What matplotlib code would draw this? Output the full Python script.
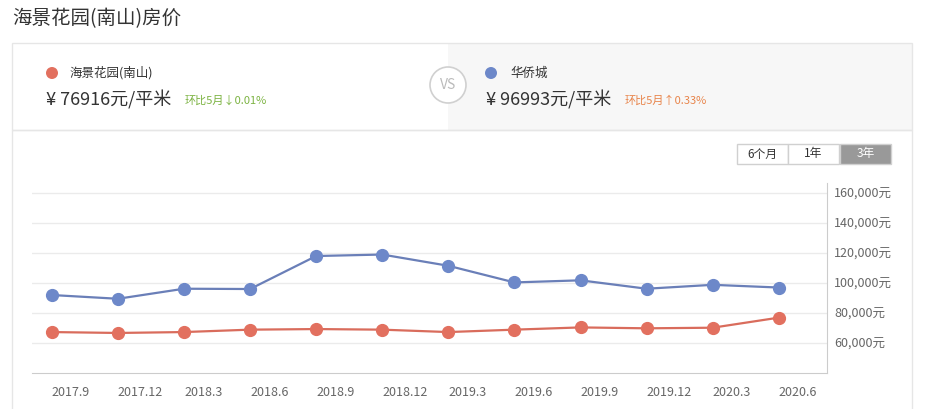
import matplotlib
matplotlib.use('Agg')
import matplotlib.pyplot as plt
from matplotlib.patches import Rectangle, Circle
from matplotlib.ticker import FuncFormatter
plt.rcParams['font.family'] = ['Noto Sans CJK SC', 'DejaVu Sans']

# data
months = ['2017.9', '2017.12', '2018.3', '2018.6', '2018.9', '2018.12',
          '2019.3', '2019.6', '2019.9', '2019.12', '2020.3', '2020.6']
haijing = [67300, 66700, 67300, 68900, 69300, 68900,
           67300, 68900, 70400, 69800, 70200, 76916]
huaqiao = [92000, 89500, 96200, 96000, 118000, 119000,
           111500, 100400, 101800, 96200, 98800, 96993]
yticks = [60000, 80000, 100000, 120000, 140000, 160000]
ranges = ['6个月', '1年', '3年']

W, H = 933, 409
RED, RED_LINE = '#e2705f', '#d96c5c'
BLUE, BLUE_LINE = '#6d88c9', '#6a7fb8'

fig = plt.figure(figsize=(W / 100, H / 100), dpi=100)

# background canvas in pixel coordinates
bg = fig.add_axes([0, 0, 1, 1])
bg.set_xlim(0, W)
bg.set_ylim(H, 0)
bg.axis('off')

bg.text(12, 19, '海景花园(南山)房价', fontsize=14, color='#333333', va='center')

# top card
bg.add_patch(Rectangle((448, 43), 464, 87, facecolor='#f7f7f7', edgecolor='none'))
bg.add_patch(Rectangle((12, 43), 900, 87, facecolor='none', edgecolor='#e6e6e6', lw=1))
bg.add_patch(Rectangle((12, 130), 900, 290, facecolor='none', edgecolor='#e6e6e6', lw=1))
bg.add_patch(Circle((448, 85), 18, facecolor='white', edgecolor='#d0d0d0', lw=1.2))
bg.text(448, 85, 'VS', fontsize=10, color='#bbbbbb', ha='center', va='center')

bg.add_patch(Circle((52, 73), 6, facecolor=RED, edgecolor='none'))
bg.text(70, 73, '海景花园(南山)', fontsize=9, color='#333333', va='center')
bg.text(46, 100, '¥ 76916元/平米', fontsize=13, color='#333333', va='center')
bg.text(185, 101, '环比5月↓0.01%', fontsize=8, color='#7cb342', va='center')

bg.add_patch(Circle((491, 73), 6, facecolor=BLUE, edgecolor='none'))
bg.text(510, 73, '华侨城', fontsize=9, color='#333333', va='center')
bg.text(486, 100, '¥ 96993元/平米', fontsize=13, color='#333333', va='center')
bg.text(625, 101, '环比5月↑0.33%', fontsize=8, color='#e8844a', va='center')

# range buttons
bx = [737, 788, 840]
for i, lab in enumerate(ranges):
    active = i == len(ranges) - 1
    bg.add_patch(Rectangle((bx[i], 144), 51, 20,
                           facecolor='#999999' if active else 'white',
                           edgecolor='#d0d0d0', lw=1))
    bg.text(bx[i] + 25.5, 154, lab, fontsize=8.5, ha='center', va='center',
            color='white' if active else '#333333')

# chart
x0, x1, y0, y1 = 32, 827, 183, 373
ax = fig.add_axes([x0 / W, 1 - y1 / H, (x1 - x0) / W, (y1 - y0) / H])
ax.set_facecolor('none')
xs = list(range(len(months)))
ax.plot(xs, huaqiao, color=BLUE_LINE, lw=1.6, marker='o', ms=8.5,
        mfc=BLUE, mec=BLUE, zorder=3)
ax.plot(xs, haijing, color=RED_LINE, lw=1.6, marker='o', ms=8.5,
        mfc=RED, mec=RED, zorder=3)

ax.set_xlim(-0.3, 11.73)
ax.set_ylim(40000, 166700)
ax.set_yticks(yticks)
ax.yaxis.tick_right()
ax.yaxis.set_major_formatter(FuncFormatter(lambda v, p: f'{int(v):,}元'))
ax.grid(axis='y', color='#ebebeb', lw=1)
ax.set_axisbelow(True)
ax.set_xticks(xs)
ax.set_xticklabels(months, ha='left')
ax.tick_params(length=0, labelsize=9, labelcolor='#666666')
ax.tick_params(axis='x', pad=9)
ax.tick_params(axis='y', pad=5)
for s in ['top', 'left']:
    ax.spines[s].set_visible(False)
ax.spines['bottom'].set_color('#cccccc')
ax.spines['right'].set_color('#cccccc')

fig.savefig('out.png', dpi=100)
